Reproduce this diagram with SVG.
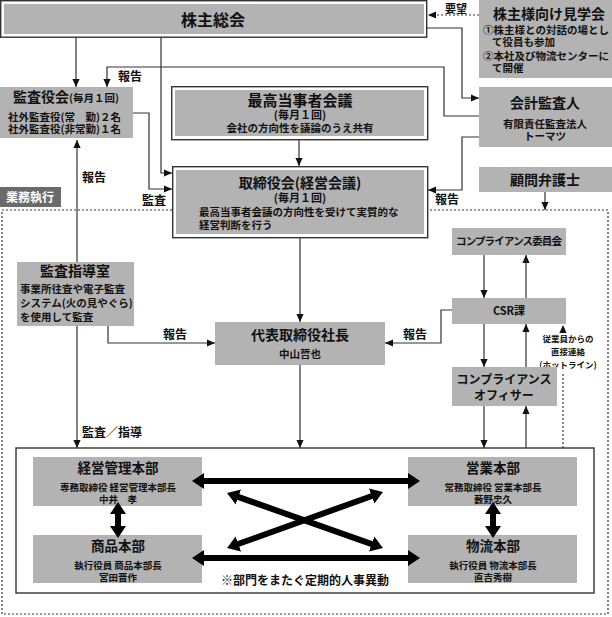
<svg xmlns="http://www.w3.org/2000/svg" width="612" height="617" viewBox="0 0 612 617">
<style>
text{font-family:"Noto Sans CJK JP","Noto Sans CJK SC",sans-serif;font-weight:700;fill:#111}
.g{fill:#b3b3b3}
.ob{fill:#fff;stroke:#333;stroke-width:1.4}
.t16{font-size:16px}.t15{font-size:15px}.t14{font-size:14px}.t13{font-size:13.5px}.t12{font-size:12px}.t11{font-size:11px}.t10{font-size:10.5px}.t9{font-size:9.5px}.t8{font-size:8.5px}
.c{text-anchor:middle}
.l{text-anchor:start}
.ln{fill:none;stroke:#333;stroke-width:1.2}
.dt{fill:none;stroke:#333;stroke-width:1.2;stroke-dasharray:2 2}
.th{fill:none;stroke:#000;stroke-width:6}
</style>
<defs>
<marker id="ah" viewBox="0 0 10 10" refX="10" refY="5" markerWidth="8" markerHeight="8" markerUnits="userSpaceOnUse" orient="auto-start-reverse"><path d="M0,0.5 L10,5 L0,9.5z" fill="#111"/></marker>
<marker id="big" viewBox="0 0 12 16" refX="1" refY="8" markerWidth="12" markerHeight="16" markerUnits="userSpaceOnUse" orient="auto-start-reverse"><path d="M0,0 L12,8 L0,16z" fill="#000"/></marker>
</defs>

<!-- business execution boundary -->
<rect x="2" y="210" width="606" height="404" class="dt"/>

<g id="connectors">
<path class="ln" d="M76,37 V87" marker-end="url(#ah)"/>
<path class="ln" d="M161,37 V173 H172" marker-end="url(#ah)"/>
<path class="ln" d="M479,116 H444 V67 H107 V87" marker-end="url(#ah)"/>
<path class="ln" d="M427,28 H462 V98 H479" marker-end="url(#ah)"/>
<path class="dt" d="M479,15 H428" marker-end="url(#ah)"/>
<path class="ln" d="M133,113 H149 V189 H172" marker-end="url(#ah)"/>
<path class="ln" d="M299,140 V166" marker-end="url(#ah)"/>
<path class="ln" d="M479,137 H462 V190 H428" marker-end="url(#ah)"/>
<path class="ln" d="M545,192 V210" marker-end="url(#ah)"/>
<path class="ln" d="M300,238 V322" marker-end="url(#ah)"/>
<path class="ln" d="M108,326 V343 H215" marker-end="url(#ah)"/>
<path class="ln" d="M452,310 H441 V343 H385" marker-end="url(#ah)"/>
<path class="ln" d="M77,140 V448" marker-start="url(#ah)" marker-end="url(#ah)"/>
<path class="ln" d="M300,365 V448" marker-end="url(#ah)"/>
<path class="ln" d="M484,255 V298" marker-end="url(#ah)"/>
<path class="ln" d="M526,298 V255" marker-end="url(#ah)"/>
<path class="ln" d="M484,324 V367" marker-end="url(#ah)"/>
<path class="ln" d="M526,367 V324" marker-end="url(#ah)"/>
<path class="ln" d="M484,406 V448" marker-end="url(#ah)"/>
<path class="ln" d="M526,448 V406" marker-end="url(#ah)"/>
<path class="dt" d="M563,448 V374 M563,333 V325" marker-end="url(#ah)"/>
</g>

<g id="kabunushi-sokai">
<rect x="0.7" y="0.7" width="426" height="36.5" class="ob"/>
<rect x="4" y="4" width="420" height="30" class="g"/>
<text x="213" y="26" class="t16 c">株主総会</text>
</g>
<text x="456" y="13" class="t11 c">要望</text>

<g id="kengakukai">
<rect x="479" y="0" width="133" height="78" class="g"/>
<text class="t10"><tspan x="549" y="19" class="t14 c">株主様向け見学会</tspan><tspan x="483" y="34" class="l">①株主様との対話の場とし</tspan><tspan x="492" y="46">て役員も参加</tspan><tspan x="483" y="60">②本社及び物流センターに</tspan><tspan x="492" y="72">て開催</tspan></text>
</g>

<text x="118" y="81" class="t12">報告</text>

<g id="kansayakukai">
<rect x="0" y="87" width="133" height="51" class="g"/>
<text class="t10"><tspan x="13" y="102" class="t14">監査役会</tspan><tspan class="t10">(毎月１回)</tspan><tspan x="8" y="121">社外監査役(常　勤)２名</tspan><tspan x="8" y="133">社外監査役(非常勤)１名</tspan></text>
</g>

<g id="saiko-tojisha">
<rect x="171.7" y="86.7" width="256" height="53" class="ob"/>
<rect x="175" y="90" width="249" height="46" class="g"/>
<text class="c"><tspan x="300" y="106" class="t15">最高当事者会議</tspan><tspan x="300" y="119" class="t11">(毎月１回)</tspan><tspan x="300" y="132" class="t10">会社の方向性を議論のうえ共有</tspan></text>
</g>

<g id="kaikei-kansanin">
<rect x="479" y="87" width="133" height="60" class="g"/>
<text class="c"><tspan x="545" y="108" class="t14">会計監査人</tspan><tspan x="545" y="128" class="t10">有限責任監査法人</tspan><tspan x="545" y="140" class="t10">トーマツ</tspan></text>
</g>

<g id="torishimariyakukai">
<rect x="172.7" y="166.7" width="255" height="71" class="ob"/>
<rect x="176" y="170" width="248" height="64" class="g"/>
<text><tspan x="300" y="188" class="t14 c">取締役会(経営会議)</tspan><tspan x="300" y="202" class="t11 c">(毎月１回)</tspan><tspan x="199" y="216" class="t10 l">最高当事者会議の方向性を受けて実質的な</tspan><tspan x="199" y="229" class="t10 l">経営判断を行う</tspan></text>
</g>

<g id="komon-bengoshi">
<rect x="479" y="167" width="133" height="25" class="g"/>
<text x="545" y="185" class="t14 c">顧問弁護士</text>
</g>

<text x="447" y="204" class="t12 c">報告</text>
<text x="154" y="205" class="t12 c">監査</text>
<text x="82" y="182" class="t12">報告</text>

<g id="gyomu-shikko">
<rect x="0" y="187" width="61" height="20" fill="#6b6b6b"/>
<text x="30" y="202" class="t12 c" style="fill:#fff">業務執行</text>
</g>

<g id="kansa-shidoshitsu">
<rect x="17" y="262" width="117" height="64" class="g"/>
<text class="t10"><tspan x="75" y="276" class="t14 c">監査指導室</tspan><tspan x="20" y="293" class="l">事業所往査や電子監査</tspan><tspan x="20" y="307">システム(火の見やぐら)</tspan><tspan x="20" y="321">を使用して監査</tspan></text>
</g>
<text x="175" y="339" class="t12 c">報告</text>

<g id="shacho">
<rect x="215" y="322" width="170" height="43" class="g"/>
<text class="c"><tspan x="300" y="340" class="t14">代表取締役社長</tspan><tspan x="300" y="358" class="t10">中山哲也</tspan></text>
</g>
<text x="415" y="339" class="t12 c">報告</text>

<g id="compliance-iinkai">
<rect x="452" y="228" width="114" height="27" class="g"/>
<text x="509" y="245" class="t10 c" textLength="106">コンプライアンス委員会</text>
</g>

<g id="csr">
<rect x="452" y="298" width="114" height="26" class="g"/>
<text x="509" y="315" class="t11 c">CSR課</text>
</g>

<g id="hotline-label">
<text class="t8 c"><tspan x="568" y="342">従業員からの</tspan><tspan x="568" y="355">直接連絡</tspan><tspan x="568" y="368">(ホットライン)</tspan></text>
</g>

<g id="compliance-officer">
<rect x="452" y="367" width="105" height="39" class="g"/>
<text class="t12 c"><tspan x="504" y="384">コンプライアンス</tspan><tspan x="504" y="400">オフィサー</tspan></text>
</g>

<text x="82" y="437" class="t12">監査／指導</text>

<g id="departments">
<rect x="16" y="448" width="578" height="145" class="ob"/>
</g>

<g id="keiei-kanri">
<rect x="33" y="457" width="169" height="49" class="g"/>
<text class="c"><tspan x="118" y="473" class="t13">経営管理本部</tspan><tspan x="118" y="491" class="t9">専務取締役 経営管理本部長</tspan><tspan x="118" y="503" class="t9">中井　孝</tspan></text>
</g>

<g id="eigyo">
<rect x="408" y="457" width="169" height="49" class="g"/>
<text class="c"><tspan x="493" y="473" class="t13">営業本部</tspan><tspan x="493" y="491" class="t9">常務取締役 営業本部長</tspan><tspan x="493" y="503" class="t9">藪野忠久</tspan></text>
</g>

<g id="shohin">
<rect x="33" y="535" width="169" height="48" class="g"/>
<text class="c"><tspan x="118" y="551" class="t13">商品本部</tspan><tspan x="118" y="569" class="t9">執行役員 商品本部長</tspan><tspan x="118" y="581" class="t9">宮田晋作</tspan></text>
</g>

<g id="butsuryu">
<rect x="408" y="535" width="169" height="48" class="g"/>
<text class="c"><tspan x="493" y="551" class="t13">物流本部</tspan><tspan x="493" y="569" class="t9">執行役員 物流本部長</tspan><tspan x="493" y="581" class="t9">直吉秀樹</tspan></text>
</g>

<g id="transfer-arrows">
<path class="th" d="M203,481 H409" marker-start="url(#big)" marker-end="url(#big)"/>
<path class="th" d="M203,558 H409" marker-start="url(#big)" marker-end="url(#big)"/>
<path class="th" d="M118,513 V527" marker-start="url(#big)" marker-end="url(#big)"/>
<path class="th" d="M493,513 V527" marker-start="url(#big)" marker-end="url(#big)"/>
<path class="th" d="M237.4,496.7 L372.6,544.3" marker-start="url(#big)" marker-end="url(#big)"/>
<path class="th" d="M237.4,544.3 L372.6,495.7" marker-start="url(#big)" marker-end="url(#big)"/>
</g>
<text x="305" y="585" class="t12 c">※部門をまたぐ定期的人事異動</text>
</svg>
